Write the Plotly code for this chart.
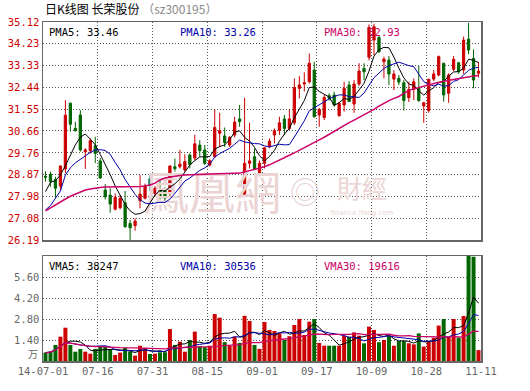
import plotly.graph_objects as go
import pandas as pd

# ---------------- data ----------------
date_labels = ["14-07-01", "07-16", "07-31", "08-15", "09-01", "09-17", "10-09", "10-28", "11-11"]

open_ = [28.80, 28.89, 28.67, 28.40, 29.10, 31.79, 30.76, 31.31, 29.80, 29.85,
         30.05, 29.43, 28.24, 28.03, 27.45, 27.51, 27.72, 26.87, 26.78, 27.80,
         27.90, 28.70, 28.10, 28.30, 28.20, 28.10, 29.19, 29.19, 29.06, 29.67,
         29.55, 30.08, 29.88, 29.26, 29.60, 30.56, 30.45, 30.08, 30.49, 31.15,
         27.99, 29.33, 29.60, 28.85, 29.33, 30.01, 30.49, 30.69, 31.15, 30.76,
         30.99, 32.40, 32.58, 32.67, 33.15, 31.31, 31.21, 32.10, 32.13, 31.28,
         31.72, 32.54, 31.76, 32.58, 33.22, 33.67, 34.38, 34.49, 33.49, 33.56,
         32.78, 32.81, 32.63, 32.02, 32.36, 32.40, 31.68, 31.49, 32.78, 32.95,
         33.43, 32.20, 33.18, 33.45, 33.15, 34.42, 33.63, 33.02]

high = [29.00, 28.99, 28.78, 29.25, 31.92, 31.82, 31.03, 31.51, 29.95, 30.35,
        30.42, 29.55, 28.48, 28.31, 28.10, 28.03, 28.20, 27.01, 27.08, 28.85,
        28.50, 28.85, 28.40, 28.65, 28.35, 29.25, 29.53, 29.88, 29.70, 29.74,
        30.50, 30.28, 30.08, 29.50, 31.54, 31.40, 30.80, 30.45, 31.24, 31.72,
        32.02, 30.99, 29.94, 29.45, 30.00, 30.35, 30.76, 31.24, 31.31, 31.54,
        32.81, 32.91, 33.06, 33.83, 33.49, 31.60, 32.13, 32.20, 32.27, 31.85,
        32.67, 32.70, 32.74, 33.43, 33.43, 35.02, 35.05, 34.55, 33.70, 33.73,
        33.15, 32.95, 32.74, 32.67, 32.81, 33.32, 31.85, 32.80, 33.15, 33.75,
        33.45, 33.02, 33.73, 33.49, 34.52, 35.09, 34.00, 33.49]

low = [28.58, 28.37, 27.90, 28.22, 28.93, 30.63, 30.63, 29.81, 29.10, 29.73,
       29.34, 28.70, 27.85, 27.31, 27.40, 27.45, 26.70, 26.19, 26.57, 27.49,
       27.85, 28.20, 27.98, 27.85, 27.78, 27.95, 28.99, 29.12, 28.99, 29.12,
       29.45, 29.60, 29.26, 29.20, 29.55, 30.01, 30.00, 30.00, 30.39, 30.83,
       27.95, 29.12, 29.05, 28.80, 29.12, 29.95, 30.15, 30.49, 30.49, 30.69,
       30.90, 31.99, 32.27, 32.60, 31.20, 30.83, 31.10, 31.90, 31.65, 31.25,
       31.45, 31.85, 31.40, 32.50, 32.74, 33.55, 33.77, 33.85, 32.81, 32.54,
       32.33, 32.54, 31.49, 31.84, 31.92, 31.85, 30.99, 31.40, 32.70, 32.90,
       31.86, 31.81, 33.10, 33.00, 33.00, 33.80, 32.40, 32.85]

close = [28.76, 28.58, 28.31, 29.22, 31.30, 30.93, 30.67, 29.88, 29.88, 30.26,
         29.74, 28.73, 27.96, 27.66, 27.94, 27.90, 26.73, 26.69, 26.96, 28.07,
         28.40, 28.42, 28.31, 27.92, 27.90, 29.22, 29.11, 29.30, 29.40, 29.28,
         30.13, 29.85, 29.33, 29.44, 30.80, 30.67, 30.18, 30.39, 31.02, 31.04,
         29.33, 29.43, 29.10, 29.33, 29.97, 30.24, 30.67, 30.99, 30.76, 31.15,
         32.43, 32.54, 32.63, 33.43, 31.24, 31.54, 32.03, 31.99, 31.72, 31.79,
         32.40, 31.86, 32.58, 33.11, 33.08, 34.90, 34.93, 33.90, 33.60, 32.99,
         32.99, 32.66, 31.90, 32.36, 32.67, 31.90, 31.81, 32.77, 32.99, 33.70,
         32.13, 32.95, 33.59, 33.08, 34.38, 33.97, 32.74, 33.11]

# volume in 万手
volume = [0.56, 0.62, 1.07, 1.62, 2.22, 1.07, 0.62, 0.80, 0.62, 0.49,
          0.80, 0.96, 0.96, 0.80, 0.40, 0.56, 0.89, 0.62, 0.36, 1.02,
          0.87, 0.47, 0.49, 0.58, 0.58, 2.13, 1.07, 1.29, 0.62, 1.40,
          1.96, 0.98, 0.92, 1.02, 3.13, 2.89, 1.26, 1.01, 1.62, 1.21,
          3.01, 2.67, 1.07, 0.81, 2.60, 2.07, 2.00, 1.84, 1.40, 1.65,
          2.40, 2.80, 1.73, 2.62, 2.80, 1.20, 1.02, 1.02, 1.02, 1.02,
          1.69, 1.62, 1.91, 1.69, 1.18, 2.29, 2.07, 1.25, 1.40, 1.67,
          1.02, 1.33, 1.33, 1.18, 1.11, 1.84, 0.96, 1.33, 1.56, 2.36,
          2.80, 1.62, 2.80, 1.56, 3.00, 7.00, 6.95, 0.73]

# 30-day price average
ma30 = [27.38, 27.51, 27.63, 27.75, 27.87, 27.98, 28.07, 28.16, 28.24, 28.28,
        28.32, 28.34, 28.36, 28.36, 28.36, 28.36, 28.36, 28.36, 28.36, 28.38,
        28.40, 28.44, 28.52, 28.65, 28.73, 28.77, 28.81, 28.83, 28.85, 28.85,
        28.86, 28.87, 28.88, 28.89, 28.89, 28.89, 28.90, 28.91, 28.92, 28.93,
        28.98, 29.02, 29.06, 29.11, 29.19, 29.27, 29.36, 29.45, 29.56, 29.66,
        29.76, 29.86, 29.98, 30.09, 30.19, 30.29, 30.40, 30.52, 30.65, 30.78,
        30.90, 31.00, 31.10, 31.21, 31.30, 31.41, 31.54, 31.67, 31.79, 31.90,
        31.99, 32.07, 32.20, 32.32, 32.38, 32.44, 32.49, 32.54, 32.60, 32.65,
        32.69, 32.73, 32.76, 32.80, 32.84, 32.88, 32.91, 32.93]

# first values of the 5- and 10-day averages (they depend on earlier days)
ma5_head = [28.17, 28.55, 28.62, 28.85]
ma10_head = [27.42, 27.60, 27.90, 28.20, 28.85, 29.15, 29.35, 29.50, 29.65]

price_tick_labels = ["26.19", "27.08", "27.98", "28.87", "29.76", "30.66",
                     "31.55", "32.44", "33.33", "34.23", "35.12"]
vol_tick_labels = ["1.40", "2.80", "4.20", "5.60"]
vol_top = 7.0

price_legend = ["PMA5: 33.46", "PMA10: 33.26", "PMA30: 32.93"]
vol_legend = ["VMA5: 38247", "VMA10: 30536", "VMA30: 19616"]

# ---------------- derived series ----------------
n = len(close)
x = list(range(n))
cs = pd.Series(close)
ma5 = cs.rolling(5).mean().tolist()
ma5[:len(ma5_head)] = ma5_head
ma10 = cs.rolling(10).mean().tolist()
ma10[:len(ma10_head)] = ma10_head
vs = pd.Series(volume)
vma5 = vs.rolling(5, min_periods=1).mean().tolist()
vma10 = vs.rolling(10, min_periods=1).mean().tolist()
vma30 = vs.rolling(30, min_periods=1).mean().tolist()

RED = "#CC0000"
GREEN = "#006600"
BLUE = "#0000AA"
PINK = "#CC0066"
bar_colors = [RED if c >= o else GREEN for o, c in zip(open_, close)]

# ---------------- geometry ----------------
W, H = 530, 391
L, R, T, B = 43, 49, 22, 30
plot_h = H - T - B
main_top, main_bot = 22, 240
vol_top_px, vol_bot = 256, 361

def py(p):  # pixel y -> paper y
    return (H - B - p) / plot_h

def px(p):  # pixel x -> paper x
    return (p - L) / (W - L - R)

xr = [-0.5, n - 0.5]
tick_pos = [xr[0] + k * n / 8 for k in range(9)]

def px_to_x(p):
    return xr[0] + (p - L) / (W - L - R) * (xr[1] - xr[0])

pmin, pmax = float(price_tick_labels[0]), float(price_tick_labels[-1])

def py_to_price(p):
    return pmin + (main_bot - p) / (main_bot - main_top) * (pmax - pmin)

MONO = "DejaVu Sans Mono"
CJK = "Noto Sans CJK SC"

fig = go.Figure()

# watermark (under the candles)
wm_color = "#EBD4D4"
fig.add_trace(go.Scatter(x=[px_to_x(212)], y=[py_to_price(197)], mode="text",
                         text=["鳳凰網"], textfont=dict(size=46, color=wm_color, family="Noto Sans CJK TC"),
                         hoverinfo="skip", showlegend=False, xaxis="x", yaxis="y"))
fig.add_trace(go.Scatter(x=[px_to_x(305)], y=[py_to_price(195)], mode="text",
                         text=["◎"], textfont=dict(size=30, color=wm_color, family="Noto Sans CJK TC"),
                         hoverinfo="skip", showlegend=False, xaxis="x", yaxis="y"))
fig.add_trace(go.Scatter(x=[px_to_x(362)], y=[py_to_price(192)], mode="text",
                         text=["財經"], textfont=dict(size=25, color=wm_color, family="Noto Sans CJK TC"),
                         hoverinfo="skip", showlegend=False, xaxis="x", yaxis="y"))
fig.add_trace(go.Scatter(x=[px_to_x(362)], y=[py_to_price(213)], mode="text",
                         text=["finance.ifeng.com"], textfont=dict(size=7, color=wm_color, family="DejaVu Sans"),
                         hoverinfo="skip", showlegend=False, xaxis="x", yaxis="y"))

fig.add_trace(go.Candlestick(
    x=x, open=open_, high=high, low=low, close=close,
    increasing=dict(line=dict(color=RED, width=1), fillcolor=RED),
    decreasing=dict(line=dict(color=GREEN, width=1), fillcolor=GREEN),
    whiskerwidth=0, showlegend=False, xaxis="x", yaxis="y", hoverinfo="skip"))

for series, col, lw in [(ma5, "#000000", 1), (ma10, BLUE, 1), (ma30, PINK, 1.5)]:
    fig.add_trace(go.Scatter(x=x, y=series, mode="lines", line=dict(color=col, width=lw),
                             showlegend=False, hoverinfo="skip", xaxis="x", yaxis="y"))

fig.add_trace(go.Bar(x=x, y=volume, marker=dict(color=bar_colors, line=dict(width=0)),
                     width=0.8, showlegend=False, hoverinfo="skip", xaxis="x2", yaxis="y2"))
for series, col, lw in [(vma5, "#000000", 1), (vma10, BLUE, 1), (vma30, PINK, 1.3)]:
    fig.add_trace(go.Scatter(x=x, y=series, mode="lines", line=dict(color=col, width=lw),
                             showlegend=False, hoverinfo="skip", xaxis="x2", yaxis="y2"))

axis_common = dict(showline=True, mirror=True, linecolor="#666666", linewidth=1.5,
                   showgrid=True, gridcolor="#555555", griddash="1px,2px", gridwidth=1,
                   zeroline=False, ticks="", automargin=False, fixedrange=True)

fig.update_layout(
    width=W, height=H, margin=dict(l=L, r=R, t=T, b=B, pad=0),
    paper_bgcolor="white", plot_bgcolor="white",
    boxgap=0.35,
    xaxis=dict(domain=[0, 1], anchor="y", range=xr, tickvals=tick_pos, showticklabels=False,
               rangeslider=dict(visible=False), **axis_common),
    yaxis=dict(domain=[py(main_bot), 1], anchor="x", range=[pmin, pmax],
               tickvals=[float(t) for t in price_tick_labels], ticktext=price_tick_labels,
               tickfont=dict(family=MONO, size=10.5, color=RED), **axis_common),
    xaxis2=dict(domain=[0, 1], anchor="y2", range=xr, tickvals=tick_pos, ticktext=date_labels,
                tickfont=dict(family=MONO, size=10.5, color="#666666"), **axis_common),
    yaxis2=dict(domain=[0, py(vol_top_px)], anchor="x2", range=[0, vol_top],
                tickvals=[float(t) for t in vol_tick_labels], ticktext=vol_tick_labels,
                tickfont=dict(family=MONO, size=10.5, color="#666666"), **axis_common),
)

ann = []
ann.append(dict(x=0, y=py(8), xref="paper", yref="paper", xanchor="left", yanchor="middle",
                text='日K线图 长荣股份 <span style="color:#888888">（sz300195）</span>',
                showarrow=False, font=dict(family=CJK, size=12, color="#000000")))
leg_x = [47, 178, 322]
leg_col = ["#000000", BLUE, PINK]
for t, lx, c in zip(price_legend, leg_x, leg_col):
    ann.append(dict(x=px(lx), y=py(32), xref="paper", yref="paper", xanchor="left", yanchor="middle",
                    text=t, showarrow=False, font=dict(family=MONO, size=10.5, color=c)))
for t, lx, c in zip(vol_legend, leg_x, leg_col):
    ann.append(dict(x=px(lx), y=py(266), xref="paper", yref="paper", xanchor="left", yanchor="middle",
                    text=t, showarrow=False, font=dict(family=MONO, size=10.5, color=c)))
ann.append(dict(x=px(40), y=py(353), xref="paper", yref="paper", xanchor="right", yanchor="middle",
                text="万", showarrow=False, font=dict(family=CJK, size=10, color="#666666")))
fig.update_layout(annotations=ann)

fig.write_html("out.html",
               config={"displayModeBar": False, "staticPlot": True},
               post_script="document.body.style.margin='0';document.body.style.padding='0';")
